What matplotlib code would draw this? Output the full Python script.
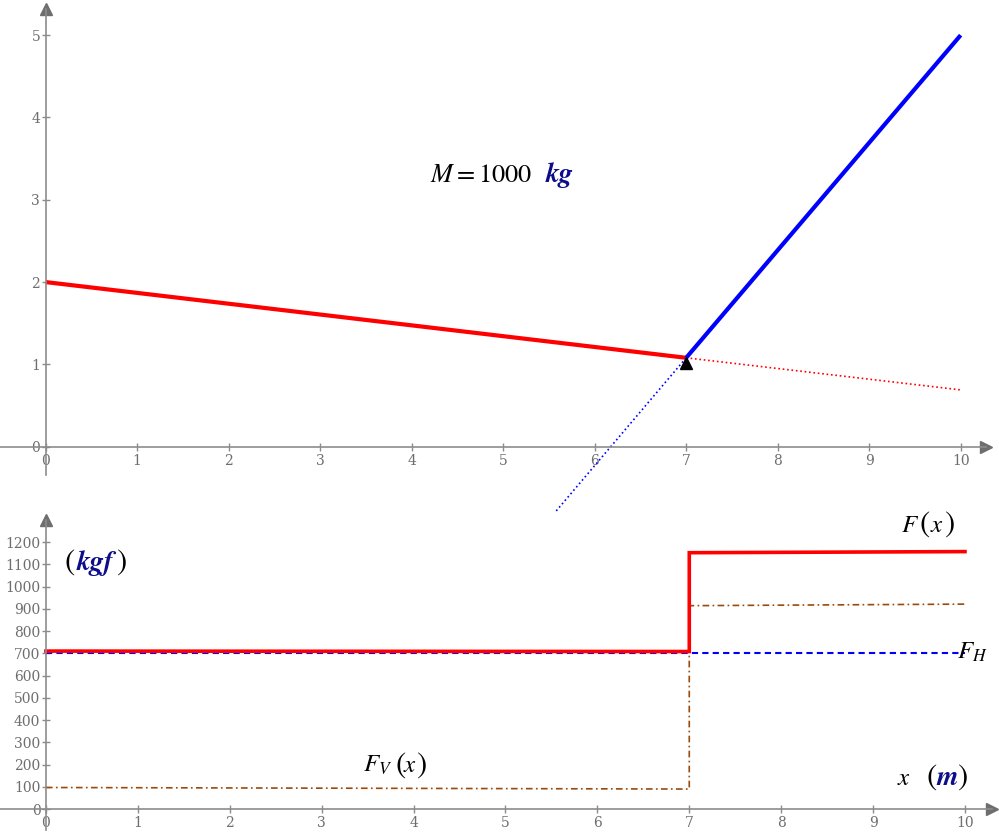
import matplotlib
matplotlib.use("Agg")
import matplotlib.pyplot as plt

# ---- data ----
# upper plot: the two straight lines meeting at x = 7
red_solid_x = [0, 7]
red_solid_y = [2.0, 1.08]
red_dot_x = [7, 10]
red_dot_y = [1.08, 0.69]
blue_solid_x = [7, 10]
blue_solid_y = [1.08, 5.0]
blue_dot_x = [5.58, 7]
blue_dot_y = [-0.78, 1.08]
mark_x = [7]
mark_y = [1.02]

# lower plot: forces (kgf)
step_x = [0, 7, 7, 10]
F_vals = [710, 708, 1152, 1157]
FV_vals = [97, 90, 914, 921]
FH_x = [0, 10]
FH_vals = [700, 700]

top_xticks = list(range(0, 11))
top_yticks = list(range(0, 6))
bot_xticks = list(range(0, 11))
bot_yticks = list(range(0, 1300, 100))

plt.rcParams['mathtext.fontset'] = 'stix'
axis_col = '#8c8c8c'
tick_col = '#6e6e6e'
navy = '#0d0d8c'
brown = '#9a4a0a'

W, H = 999, 840
fig = plt.figure(figsize=(W / 100, H / 100), dpi=100)


def px_axes(left, top, right, bottom):
    return fig.add_axes([left / W, 1 - bottom / H, (right - left) / W, (bottom - top) / H])


def style_axes(ax, xticks, yticks):
    for s in ['top', 'right']:
        ax.spines[s].set_visible(False)
    ax.spines['left'].set_position(('data', 0))
    ax.spines['bottom'].set_position(('data', 0))
    for s in ['left', 'bottom']:
        ax.spines[s].set_color(axis_col)
        ax.spines[s].set_linewidth(1.2)
    ax.set_xticks(xticks)
    ax.set_yticks(yticks)
    ax.tick_params(direction='inout', length=6, width=1, color=axis_col,
                   labelcolor=tick_col, labelsize=10)
    ax.tick_params(axis='x', pad=2)
    ax.tick_params(axis='y', pad=1)
    for lab in ax.get_xticklabels() + ax.get_yticklabels():
        lab.set_family('DejaVu Serif')
    ax.patch.set_visible(False)
    # arrow heads
    ax.plot(1, 0, '>', color='#6e6e6e', ms=8, transform=ax.get_yaxis_transform(), clip_on=False)
    ax.plot(0, 1, '^', color='#6e6e6e', ms=8, transform=ax.get_xaxis_transform(), clip_on=False)


def paren(ax, x, y, s):
    ax.text(x, y, s, fontsize=22, va='baseline', ha='left', family='STIXGeneral')


def unit(ax, x, y, s):
    ax.text(x, y, s, fontsize=20, va='baseline', ha='left', color=navy,
            family='STIXGeneral', style='italic', weight='bold')


# ---- upper plot ----
ax1 = px_axes(0, 9, 986, 475)
ax1.set_xlim(-0.4995, 10.277)
ax1.set_ylim(-0.344, 5.318)
style_axes(ax1, top_xticks, top_yticks)

ax1.plot(red_solid_x, red_solid_y, color='red', lw=3, solid_capstyle='butt')
ax1.plot(red_dot_x, red_dot_y, color='red', lw=1.2, ls=':')
ax1.plot(blue_dot_x, blue_dot_y, color='blue', lw=1.2, ls=':', clip_on=False)
ax1.plot(blue_solid_x, blue_solid_y, color='blue', lw=3, solid_capstyle='butt')
ax1.plot(mark_x, mark_y, '^', color='black', ms=8)

ax1.text(4.20, 3.22, r'$M{=}1000$', fontsize=19, va='baseline', ha='left')
unit(ax1, 5.46, 3.22, 'kg')

# ---- lower plot ----
ax2 = px_axes(0, 520, 992, 830)
ax2.set_xlim(-0.5, 10.294)
ax2.set_ylim(-94, 1299)
style_axes(ax2, bot_xticks, bot_yticks)

ax2.plot(FH_x, FH_vals, color='blue', lw=1.5, ls=(0, (3, 2)))
ax2.plot(step_x, FV_vals, color=brown, lw=1.2, ls=(0, (4, 2, 1, 2)))
ax2.plot(step_x, F_vals, color='red', lw=2.6, solid_joinstyle='miter')

lab = dict(fontsize=18, va='baseline', ha='left')
# F(x)
ax2.text(9.30, 1245, r'$F$', **lab)
paren(ax2, 9.50, 1245, '(')
ax2.text(9.62, 1245, r'$x$', **lab)
paren(ax2, 9.77, 1245, ')')
# F_H
ax2.text(9.91, 674, r'$F_H$', **lab)
# F_V(x)
ax2.text(3.45, 166, r'$F_V$', **lab)
paren(ax2, 3.80, 166, '(')
ax2.text(3.89, 166, r'$x$', **lab)
paren(ax2, 4.03, 166, ')')
# x (m)
ax2.text(9.26, 108, r'$x$', **lab)
paren(ax2, 9.58, 108, '(')
unit(ax2, 9.69, 108, 'm')
paren(ax2, 9.91, 108, ')')
# (kgf)
paren(ax2, 0.20, 1074, '(')
unit(ax2, 0.33, 1074, 'kgf')
paren(ax2, 0.76, 1074, ')')

fig.savefig('out.png', dpi=100)
